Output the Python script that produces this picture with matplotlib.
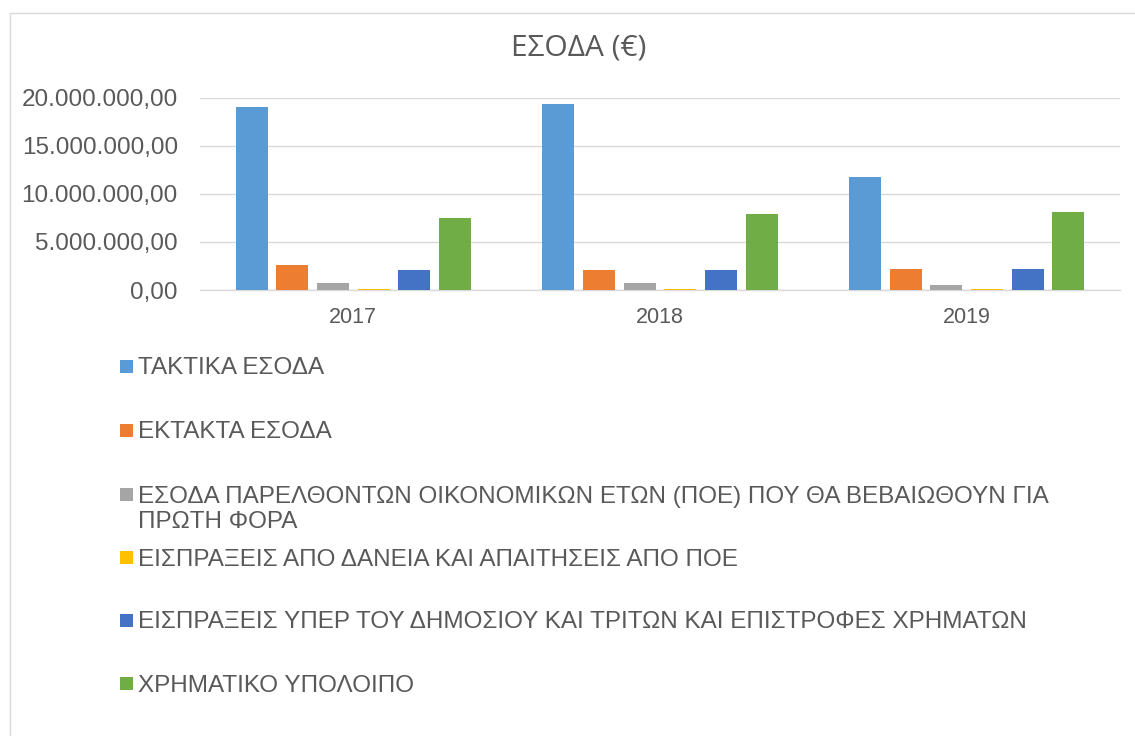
import numpy as np
import matplotlib
matplotlib.use("Agg")
import matplotlib.pyplot as plt
from matplotlib.patches import Rectangle
from matplotlib.ticker import FuncFormatter

years = ["2017", "2018", "2019"]
series = [
    "ΤΑΚΤΙΚΑ ΕΣΟΔΑ",
    "ΕΚΤΑΚΤΑ ΕΣΟΔΑ",
    "ΕΣΟΔΑ ΠΑΡΕΛΘΟΝΤΩΝ ΟΙΚΟΝΟΜΙΚΩΝ ΕΤΩΝ (ΠΟΕ) ΠΟΥ ΘΑ ΒΕΒΑΙΩΘΟΥΝ ΓΙΑ\nΠΡΩΤΗ ΦΟΡΑ",
    "ΕΙΣΠΡΑΞΕΙΣ ΑΠΟ ΔΑΝΕΙΑ ΚΑΙ ΑΠΑΙΤΗΣΕΙΣ ΑΠΟ ΠΟΕ",
    "ΕΙΣΠΡΑΞΕΙΣ ΥΠΕΡ ΤΟΥ ΔΗΜΟΣΙΟΥ ΚΑΙ ΤΡΙΤΩΝ ΚΑΙ ΕΠΙΣΤΡΟΦΕΣ ΧΡΗΜΑΤΩΝ",
    "ΧΡΗΜΑΤΙΚΟ ΥΠΟΛΟΙΠΟ",
]
taktika = [18980000, 19360000, 11710000]
ektakta = [2630000, 2050000, 2150000]
poe = [690000, 690000, 550000]
daneia = [80000, 80000, 80000]
yper = [2050000, 2050000, 2150000]
ypoloipo = [7480000, 7860000, 8140000]
values = [taktika, ektakta, poe, daneia, yper, ypoloipo]
colors = ["#5B9BD5", "#ED7D31", "#A5A5A5", "#FFC000", "#4472C4", "#70AD47"]

W, H = 1135, 736
txt = "#595959"
grid = "#D9D9D9"
font = ["Liberation Sans", "DejaVu Sans"]

fig = plt.figure(figsize=(W / 100, H / 100), dpi=100)
fig.patch.set_facecolor("white")
# chart frame
fig.add_artist(Rectangle((9.5 / W, -0.1), 1.2, 1 - 12.5 / H + 0.1, transform=fig.transFigure,
                         fill=False, edgecolor=grid, linewidth=1))

ax = fig.add_axes([200 / W, 1 - 290 / H, 920 / W, 192.5 / H])
x = np.arange(len(years))
pitch = 0.1326
bw = 0.104
for i, (vals, c) in enumerate(zip(values, colors)):
    ax.bar(x + (i - 2.5) * pitch, vals, width=bw, color=c, zorder=3)

ax.set_xlim(-0.5, 2.5)
ax.set_ylim(0, 20000000)
ax.set_yticks(np.arange(0, 20000001, 5000000))
ax.yaxis.set_major_formatter(FuncFormatter(
    lambda v, p: "{:,.2f}".format(v).replace(",", "X").replace(".", ",").replace("X", ".")))
ax.set_xticks(x)
ax.set_xticklabels(years)
ax.grid(axis="y", color=grid, linewidth=1, zorder=0)
for s in ["top", "right", "left"]:
    ax.spines[s].set_visible(False)
ax.spines["bottom"].set_color(grid)
ax.spines["bottom"].set_linewidth(1)
ax.tick_params(axis="both", length=0, colors=txt)
for lab in ax.get_yticklabels():
    lab.set_fontsize(17.5)
    lab.set_family(font)
for lab in ax.get_xticklabels():
    lab.set_fontsize(15.5)
    lab.set_family(font)
ax.tick_params(axis="y", pad=16)
ax.tick_params(axis="x", pad=12)

fig.text(579 / W, 1 - 48 / H, "ΕΣΟΔΑ (€)", ha="center", va="center", fontsize=21.5,
         color=txt, family=["Open Sans", "DejaVu Sans"])

# legend
leg_y = [366, 430, 494, 557, 620, 683]
for name, c, yy in zip(series, colors, leg_y):
    fig.add_artist(Rectangle((120 / W, 1 - (yy + 6.5) / H), 12.5 / W, 12.5 / H,
                             transform=fig.transFigure, facecolor=c, edgecolor="none"))
    lines = name.split("\n")
    for k, line in enumerate(lines):
        fig.text(138 / W, 1 - (yy + 26 * k) / H, line, ha="left", va="center_baseline",
                 fontsize=17.5, color=txt, family=font)

fig.savefig("out.png", dpi=100)
